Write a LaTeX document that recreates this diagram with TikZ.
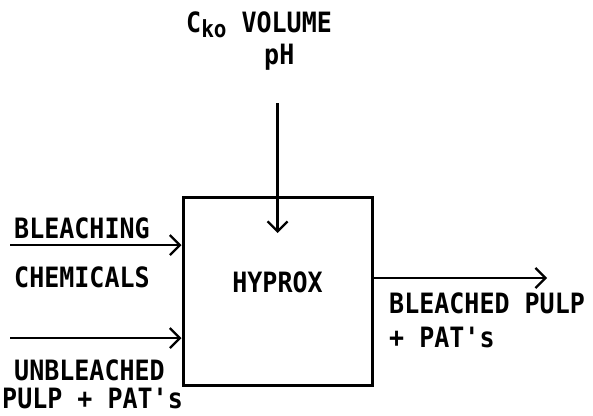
\documentclass[tikz,border=0pt]{standalone}
\usepackage{fontspec}
\setmonofont{DejaVu Sans Mono}
\usetikzlibrary{arrows.meta}
\newcommand{\tall}[1]{\scalebox{1}[1.12]{#1}}
\begin{document}
\begin{tikzpicture}[x=1pt,y=-1pt,
  lbl/.style={font=\ttfamily\bfseries\fontsize{25}{25}\selectfont, inner sep=0pt, anchor=base west},
  flow/.style={line width=2.3pt, -{Straight Barb[length=10pt,width=20pt]}},
  boxst/.style={draw, line width=3pt, minimum width=189pt, minimum height=188pt, inner sep=0pt}]
\useasboundingbox (0,0) rectangle (593,415);
\node[boxst] (hyprox) at (277.5,291.5) {};
\node[lbl, anchor=base] (hname) at (277.5,292) {\tall{HYPROX}};
% top input
\node[lbl] (ctop) at (186,32) {\tall{C\raisebox{-5pt}{\fontsize{21}{21}\selectfont ko} VOLUME}};
\node[lbl] (ph) at (264,64) {\tall{pH}};
\coordinate (topstart) at (277.5,103);
\coordinate (toptip) at (277.5,233);
\draw[flow] (topstart) -- (toptip);
% left inputs
\coordinate (in1) at (10,245);
\coordinate (in2) at (10,338);
\draw[flow] (in1) -- (hyprox.west |- in1);
\draw[flow] (in2) -- (hyprox.west |- in2);
\node[lbl] (bl) at (14,238) {\tall{BLEACHING}};
\node[lbl] (ch) at (14,287) {\tall{CHEMICALS}};
\node[lbl] (ub) at (14,380) {\tall{UNBLEACHED}};
\node[lbl] (pp) at (2,408) {\tall{PULP + PAT's}};
% output
\coordinate (out) at (547,278);
\draw[flow] (hyprox.east |- out) -- (out);
\node[lbl] (bp) at (389,313) {\tall{BLEACHED PULP}};
\node[lbl] (pa) at (389,347) {\tall{+ PAT's}};
\end{tikzpicture}
\end{document}
